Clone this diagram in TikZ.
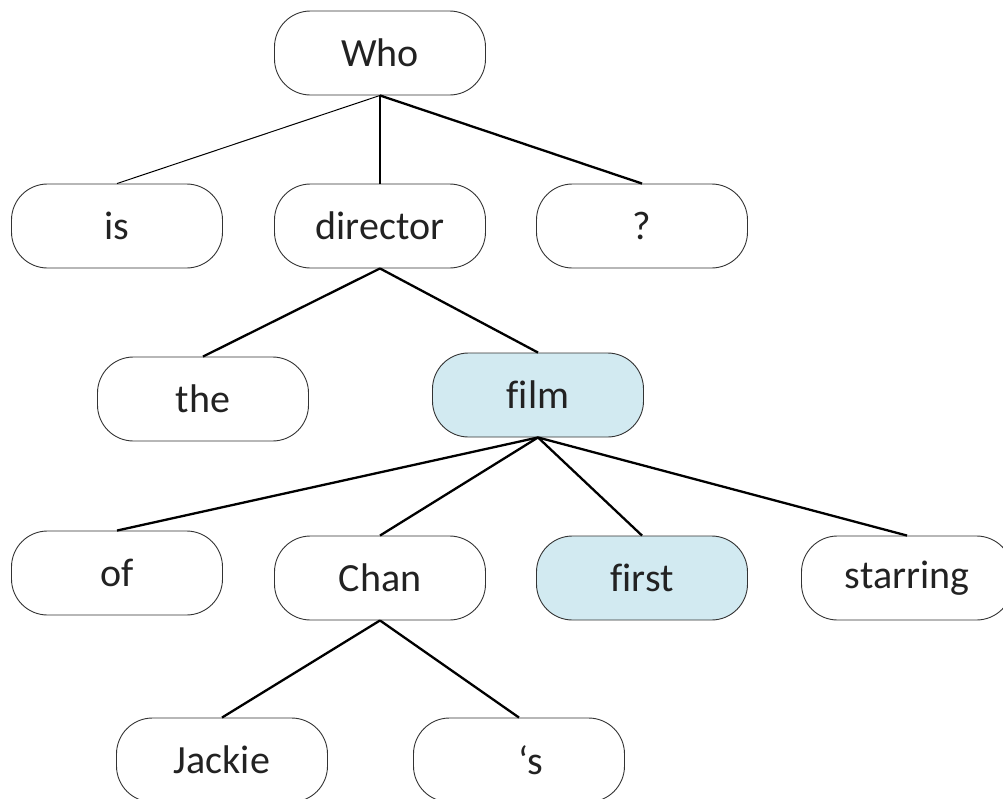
\documentclass[tikz,border=0pt]{standalone}
\usepackage{fontspec}
\setmainfont[Ligatures=NoCommon,RawFeature={-liga}]{Carlito}
\definecolor{boxblue}{RGB}{210,234,241}
\definecolor{txt}{RGB}{34,34,34}
\begin{document}
\begin{tikzpicture}[x=1pt,y=-1pt,
  word/.style={draw=black!80,line width=0.9pt,rounded corners=36pt,
    minimum width=211pt,minimum height=84pt,inner sep=0pt,
    font=\fontsize{40}{48}\selectfont,text=txt},
  hl/.style={word,fill=boxblue},
  link/.style={line width=2.3pt,black},
  thinlink/.style={line width=1pt,black}]
\useasboundingbox (0,0) rectangle (1003,798);
\node[word] (who) at (380,53) {Who};
\node[word] (is) at (117,226) {is};
\node[word] (director) at (380,226) {director};
\node[word] (q) at (642,226) {?};
\node[word] (the) at (203,399) {the};
\node[hl] (film) at (538,395) {f\kern0pt ilm};
\node[word] (of) at (117,573) {of};
\node[word] (chan) at (380,578) {Chan};
\node[hl] (first) at (642,578) {f\kern0pt irst};
\node[word] (starring) at (907,578) {starring};
\node[word] (jackie) at (222,760) {Jackie};
\node[word] (s) at (519,760) {\hspace*{0.6em}‘s};
\draw[thinlink] (who.south) -- (is.north);
\draw[link] (who.south) -- (director.north);
\draw[link] (who.south) -- (q.north);
\draw[link] (director.south) -- (the.north);
\draw[link] (director.south) -- (film.north);
\draw[link] (film.south) -- (of.north);
\draw[link] (film.south) -- (chan.north);
\draw[link] (film.south) -- (first.north);
\draw[link] (film.south) -- (starring.north);
\draw[link] (chan.south) -- (jackie.north);
\draw[link] (chan.south) -- (s.north);
\end{tikzpicture}
\end{document}
